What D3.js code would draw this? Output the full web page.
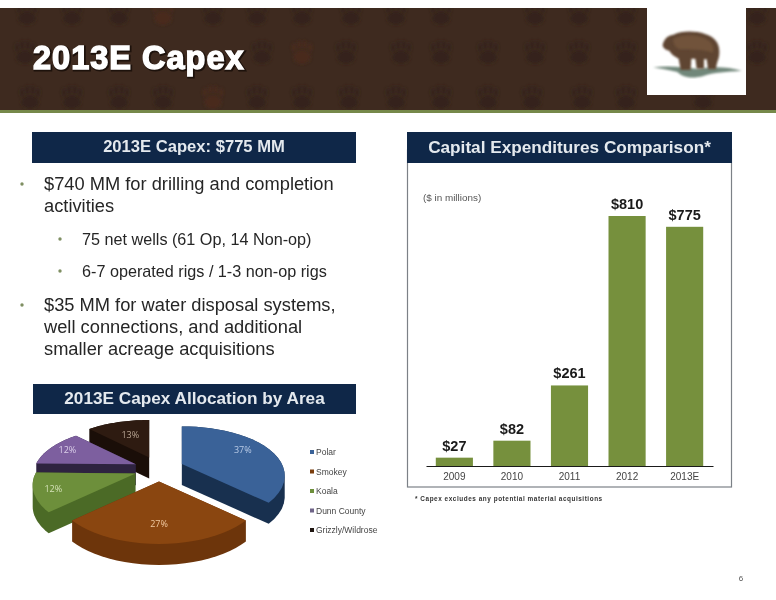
<!DOCTYPE html>
<html>
<head>
<meta charset="utf-8">
<style>
    body { margin: 0; background: white; font-family: "Liberation Sans", sans-serif; }
    svg { display: block; filter: blur(0.35px); }
</style>
<script src="https://cdn.jsdelivr.net/npm/d3@7"></script>
</head>
<body>
<svg id="slide" width="776" height="600">
    <defs>
        <filter id="soft"><feGaussianBlur stdDeviation="1.5"></feGaussianBlur></filter>
        <filter id="paint"><feGaussianBlur stdDeviation="3"></feGaussianBlur></filter>
        <clipPath id="bandClip"><rect x="0" y="8" width="776" height="102"></rect></clipPath>
    </defs>
</svg>
<script>
// chart data
let years = ["2009", "2010", "2011", "2012", "2013E"];
let capex = [27, 82, 261, 810, 775];

let areas = ["Polar", "Smokey", "Koala", "Dunn County", "Grizzly/Wildrose"];
let shares = [37, 27, 12, 12, 13];
let topColors = ["#3a6298", "#8a4610", "#6d8f3b", "#7d5f9f", "#2e1b11"];
let sideColors = ["#18304f", "#6d350b", "#4b6a26", "#2e2340", "#1a0e08"];
let labelColors = ["#b9cbe6", "#f0c9a0", "#d5e2b8", "#dcd0ea", "#b8a593"];
let legendColors = ["#3a6298", "#7a3d0d", "#6d8f3b", "#6f6488", "#1f1510"];

// slide text
let bulletLines = [
    {text: "$740 MM for drilling and completion", level: 0, y: 190, dot: true},
    {text: "activities", level: 0, y: 212},
    {text: "75 net wells (61 Op, 14 Non-op)", level: 1, y: 245, dot: true},
    {text: "6-7 operated rigs / 1-3 non-op rigs", level: 1, y: 277, dot: true},
    {text: "$35 MM for water disposal systems,", level: 0, y: 311, dot: true},
    {text: "well connections, and additional", level: 0, y: 333},
    {text: "smaller acreage acquisitions", level: 0, y: 355}
];

// background paw prints in the title band, [x, y]
let pawRows = [
    [14, [27, 72, 119, 163, 213, 257, 302, 351, 396, 441, 535, 579, 626, 757]],
    [53, [25, 262, 302, 346, 401, 441, 488, 535, 579, 626, 757]],
    [98, [30, 72, 119, 163, 213, 257, 302, 349, 396, 441, 488, 532, 582, 626, 703]]
];

let svg = d3.select("#slide");

function drawBand() {
    svg.append("rect").attr("x", 0).attr("y", 8).attr("width", 776).attr("height", 102).attr("fill", "#3e2a1f");
    svg.append("rect").attr("x", 0).attr("y", 110).attr("width", 776).attr("height", 3).attr("fill", "#76894a");

    let paws = pawRows.flatMap(r => r[1].map(x => ({x: x, y: r[0]})));
    let paw = svg.append("g").attr("clip-path", "url(#bandClip)").append("g").attr("filter", "url(#soft)")
        .selectAll("g").data(paws).enter().append("g")
        .attr("transform", d => `translate(${d.x},${d.y}) scale(1.35)`)
        .attr("fill", (d, i) => i % 13 == 3 ? "#482a1e" : "#35241a");
    paw.append("ellipse").attr("cx", 0).attr("cy", 3).attr("rx", 6.5).attr("ry", 5);
    [-6, -2, 2, 6].forEach((dx, i) => {
        paw.append("ellipse").attr("cx", dx).attr("cy", (i == 0 || i == 3) ? -4 : -6).attr("rx", 1.5).attr("ry", 3);
    });

    svg.append("text").attr("x", 33).attr("y", 69)
        .attr("font-weight", "bold").attr("font-size", 32.5).attr("letter-spacing", 1)
        .attr("fill", "#1d120c").attr("stroke", "#1d120c").attr("stroke-width", 3).attr("transform", "translate(1,1)")
        .text("2013E Capex");
    svg.append("text").attr("x", 33).attr("y", 69)
        .attr("font-weight", "bold").attr("font-size", 32.5).attr("letter-spacing", 1)
        .attr("fill", "white").attr("stroke", "white").attr("stroke-width", 1.4)
        .text("2013E Capex");

    drawLogo();
}

function drawLogo() {
    svg.append("rect").attr("x", 647).attr("y", 8).attr("width", 99).attr("height", 87).attr("fill", "white");
    let g = svg.append("g").attr("transform", "translate(640,10) scale(0.3333)");
    g.append("path").attr("filter", "url(#paint)")
        .attr("d", "M40,172 C90,166 130,172 170,176 C210,170 260,168 305,182 C260,186 220,186 190,198 C160,206 130,204 112,186 C85,180 60,176 40,172Z")
        .attr("fill", "#71877a");
    g.append("path").attr("filter", "url(#paint)")
        .attr("d", "M68,104 C72,90 80,76 100,74 C125,62 165,62 195,72 C224,80 240,100 238,130 C237,150 230,155 228,178 L204,178 L200,148 L192,148 L192,176 L170,176 L166,146 L154,146 L152,180 L122,180 L116,146 C104,140 92,132 88,122 C78,120 68,114 68,104Z")
        .attr("fill", "#5f4530");
    g.append("path").attr("filter", "url(#paint)")
        .attr("d", "M100,86 C130,72 170,72 200,88 C218,100 224,114 218,128 C190,118 150,118 118,118 C104,110 98,98 100,86Z")
        .attr("fill", "#71523a");
}

function sectionHead(x, y, w, h, text, size) {
    svg.append("rect").attr("x", x).attr("y", y).attr("width", w).attr("height", h).attr("fill", "#0f2748");
    svg.append("text").attr("x", x + w / 2).attr("y", y + h / 2 + size * 0.35 - 1)
        .attr("text-anchor", "middle").attr("font-weight", "bold").attr("font-size", size)
        .attr("fill", "#e4e9ee").text(text);
}

function drawBullets() {
    svg.append("g").selectAll("text").data(bulletLines).enter().append("text")
        .attr("x", d => d.level == 0 ? 44 : 82)
        .attr("y", d => d.y)
        .attr("font-size", d => d.level == 0 ? 18.3 : 16.2)
        .attr("fill", "#262626")
        .text(d => d.text);
    svg.append("g").selectAll("circle").data(bulletLines.filter(d => d.dot)).enter().append("circle")
        .attr("cx", d => d.level == 0 ? 22 : 60)
        .attr("cy", d => d.y - 6)
        .attr("r", 1.7)
        .attr("fill", "#7f8f62");
}

function drawBars() {
    // panel
    svg.append("rect").attr("x", 407.5).attr("y", 150).attr("width", 324).attr("height", 337)
        .attr("fill", "white").attr("stroke", "#7c8187").attr("stroke-width", 1.2);
    sectionHead(407, 132, 325, 31, "Capital Expenditures Comparison*", 17.2);

    let x = d3.scaleBand().domain(years).range([426, 713]).paddingInner(0.355).paddingOuter(0.17);
    let y = d3.scaleLinear().domain([0, 810]).range([466, 216]);

    svg.append("g").selectAll("rect").data(capex).enter().append("rect")
        .attr("x", (d, i) => x(years[i]))
        .attr("y", d => y(d))
        .attr("width", x.bandwidth())
        .attr("height", d => y(0) - y(d))
        .attr("fill", "#76903d");

    svg.append("g").selectAll("text").data(capex).enter().append("text")
        .attr("x", (d, i) => x(years[i]) + x.bandwidth() / 2)
        .attr("y", d => y(d) - 7)
        .attr("text-anchor", "middle")
        .attr("font-weight", "bold")
        .attr("font-size", 14.5)
        .attr("fill", "#1a1a1a")
        .text(d => "$" + d);

    let axis = svg.append("g").attr("transform", `translate(0,${y(0)})`)
        .call(d3.axisBottom(x).tickSize(0).tickPadding(7));
    axis.select(".domain").attr("stroke", "#1a1a1a").attr("stroke-width", 1.2);
    axis.selectAll("text").attr("font-family", "'Liberation Sans'").attr("font-size", 10).attr("fill", "#444");

    svg.append("text").attr("x", 423).attr("y", 201).attr("font-size", 9.9).attr("fill", "#555").text("($ in millions)");
    svg.append("text").attr("x", 415).attr("y", 501).attr("font-size", 6.4).attr("font-weight", "bold")
        .attr("fill", "#333").attr("letter-spacing", 0.55).text("* Capex excludes any potential material acquisitions");
}

function drawPie() {
    sectionHead(33, 384, 323, 30, "2013E Capex Allocation by Area", 17.2);

    let cx = 159, cy = 469, radius = 100, depth = 21, tilt = 0.5, persp = 0.25, explode = 25;

    let pie = d3.pie().sort(null).value(d => d.share);
    let slices = pie(areas.map((a, i) => ({area: a, share: shares[i], i: i})));

    // seen from above, so points at the front come out a bit bigger
    function project(angle, r, ox, oy) {
        let s = 1 - persp * Math.cos(angle) * r / radius;
        return [
            cx + ox + r * Math.sin(angle) * s,
            cy + oy - r * Math.cos(angle) * tilt * s
        ];
    }

    function offset(d) {
        let mid = (d.startAngle + d.endAngle) / 2;
        return [explode * Math.sin(mid), -explode * Math.cos(mid) * 0.5];
    }

    function outline(d) {
        let o = offset(d);
        let angles = d3.range(0, 25).map(k => d.startAngle + (d.endAngle - d.startAngle) * k / 24);
        return [[cx + o[0], cy + o[1]]].concat(angles.map(a => project(a, radius, o[0], o[1])));
    }

    let line = d3.line();
    let drawOrder = [4, 3, 0, 2, 1];
    let g = svg.append("g");

    drawOrder.forEach(i => {
        let pts = outline(slices[i]);
        // every slice is under 180 degrees so top + shifted top make a convex body
        let body = d3.polygonHull(pts.concat(pts.map(p => [p[0], p[1] + depth])));
        g.append("path").attr("d", line(body) + "Z").attr("fill", sideColors[i]);
        g.append("path").attr("d", line(pts) + "Z").attr("fill", topColors[i]);
    });

    // percent labels, placed part way out along each slice
    let labelR = [0.72, 0.72, 0.82, 0.8, 0.55];
    function labelPos(d, i) {
        let mid = (d.startAngle + d.endAngle) / 2;
        let o = offset(d);
        return project(mid, radius * labelR[i], o[0], o[1]);
    }
    svg.append("g").selectAll("text").data(slices).enter().append("text")
        .attr("x", (d, i) => labelPos(d, i)[0])
        .attr("y", (d, i) => labelPos(d, i)[1] + 3)
        .attr("text-anchor", "middle")
        .attr("font-family", "'Open Sans'")
        .attr("font-size", 9)
        .attr("fill", (d, i) => labelColors[i])
        .text(d => d.data.share + "%");

    // legend
    let ly = d3.scalePoint().domain(areas).range([452, 530]);
    let legend = svg.append("g").selectAll("g").data(areas).enter().append("g")
        .attr("transform", d => `translate(310,${ly(d)})`);
    legend.append("rect").attr("x", 0).attr("y", -2).attr("width", 4).attr("height", 4)
        .attr("fill", (d, i) => legendColors[i]);
    legend.append("text").attr("x", 6).attr("y", 3).attr("font-size", 8.5).attr("fill", "#444").text(d => d);
}

drawBand();
sectionHead(32, 132, 324, 31, "2013E Capex: $775 MM", 16.6);
drawBullets();
drawBars();
drawPie();
svg.append("text").attr("x", 741).attr("y", 581).attr("text-anchor", "middle").attr("font-size", 8).attr("fill", "#555").text("6");
</script>
</body>
</html>
